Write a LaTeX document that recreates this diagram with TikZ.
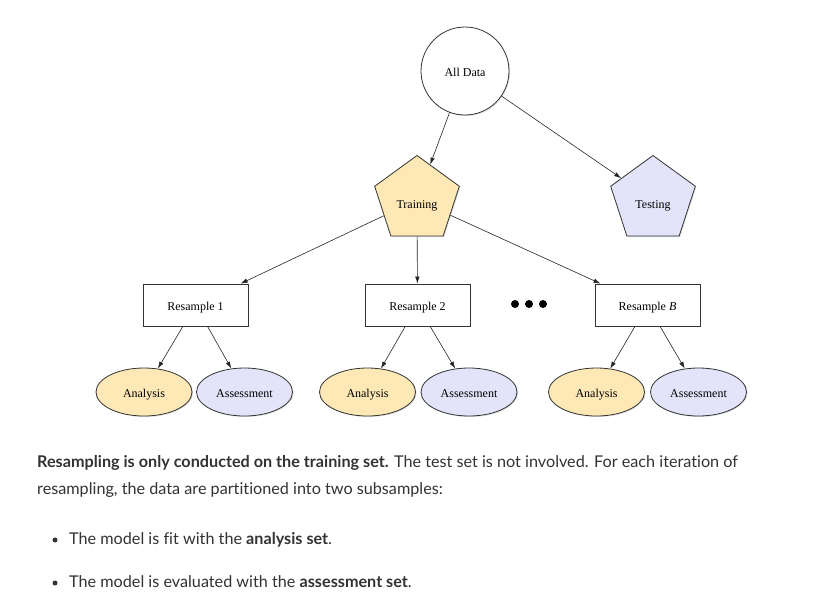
\documentclass[tikz,border=0pt]{standalone}
\usepackage{fontspec}
\newfontfamily\latofont[Ligatures=NoCommon]{Lato}
\newfontfamily\timesfont{Liberation Serif}
\usetikzlibrary{shapes.geometric,arrows.meta,shadows}
\definecolor{tanfill}{HTML}{FDE8B6}
\definecolor{lavfill}{HTML}{E3E4FA}
\definecolor{txt}{HTML}{333333}
\begin{document}
\begin{tikzpicture}[x=1pt,y=-1pt,
 base/.style={draw=black!80,line width=0.8pt,font=\timesfont\fontsize{12}{14}\selectfont,
   text height=11pt,text depth=1pt,
   drop shadow={shadow xshift=1pt,shadow yshift=-1pt,opacity=0.25}},
 circ/.style={base,circle,fill=white,minimum size=88pt,inner sep=0pt},
 pent/.style={base,regular polygon,regular polygon sides=5,minimum size=89pt,inner sep=0pt,
   text height=16pt,text depth=0pt},
 box/.style={base,rectangle,fill=white,minimum width=105pt,minimum height=42pt,inner sep=0pt},
 ell/.style={base,ellipse,minimum width=96pt,minimum height=48pt,inner sep=0pt},
 arr/.style={-{Latex[length=7pt,width=4.5pt]},line width=0.6pt,draw=black!85},
 dot/.style={circle,fill=black,inner sep=0pt,minimum size=8pt},
 bullet/.style={circle,fill=txt,inner sep=0pt,minimum size=5pt},
 para/.style={anchor=base west,inner sep=0pt,font=\latofont\fontsize{16.2}{19}\selectfont,text=txt}
]
\fill[white] (0,0) rectangle (813,603);
\useasboundingbox (0,0) rectangle (813,603);

\node[circ] (all) at (465,71) {All Data};
\node[pent,fill=tanfill] (train) at (417,200) {Training};
\node[pent,fill=lavfill] (test) at (653,200) {Testing};

\node[box] (r1) at (195.5,305) {Resample 1};
\node[box] (r2) at (417.5,305) {Resample 2};
\node[box] (rb) at (647.5,305) {Resample \textit{B}};

\node[dot] (d1) at (515,304) {};
\node[dot] (d2) at (529,304) {};
\node[dot] (d3) at (543,304) {};

\node[ell,fill=tanfill] (a1) at (144,392) {Analysis};
\node[ell,fill=lavfill] (s1) at (244.5,392) {Assessment};
\node[ell,fill=tanfill] (a2) at (367.5,392) {Analysis};
\node[ell,fill=lavfill] (s2) at (469,392) {Assessment};
\node[ell,fill=tanfill] (a3) at (596.5,392) {Analysis};
\node[ell,fill=lavfill] (s3) at (698.5,392) {Assessment};

\draw[arr] (all) -- (train);
\draw[arr] (all) -- (test);
\draw[arr] (train) -- (r1);
\draw[arr] (train) -- (r2);
\draw[arr] (train) -- (rb);
\draw[arr] (r1) -- (a1);
\draw[arr] (r1) -- (s1);
\draw[arr] (r2) -- (a2);
\draw[arr] (r2) -- (s2);
\draw[arr] (rb) -- (a3);
\draw[arr] (rb) -- (s3);

\node[para] (p1) at (37,467) {\textbf{Resampling is only conducted on the training set.} The test set is not involved. For each iteration of};
\node[para] (p2) at (37,494) {resampling, the data are partitioned into two subsamples:};
\node[bullet] (bu1) at (55,540) {};
\node[para] (b1) at (69,544) {The model is fit with the \textbf{analysis set}.};
\node[bullet] (bu2) at (55,583) {};
\node[para] (b2) at (69,587) {The model is evaluated with the \textbf{assessment set}.};
\end{tikzpicture}
\end{document}
